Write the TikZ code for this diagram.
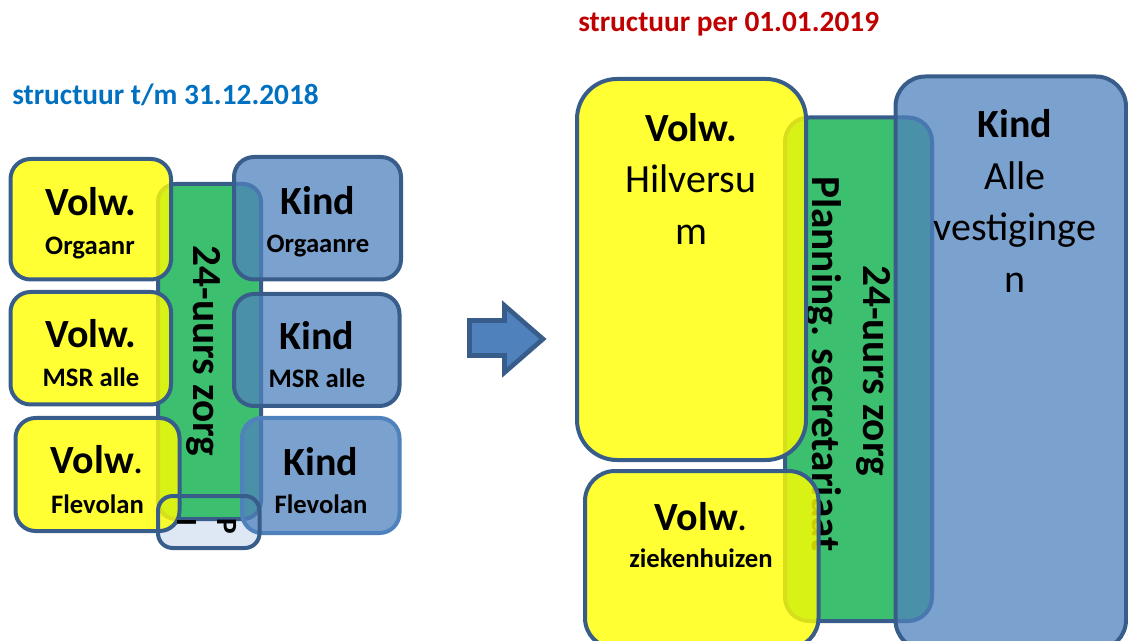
\documentclass[tikz,border=0pt]{standalone}
\usepackage{fontspec}
\setmainfont{Carlito}
\definecolor{bordc}{RGB}{56,93,138}
\definecolor{bordl}{RGB}{79,129,189}
\definecolor{yelf}{RGB}{255,255,0}
\definecolor{bluf}{RGB}{79,129,189}
\definecolor{grnf}{RGB}{60,192,112}
\definecolor{ipf}{RGB}{222,231,244}
\definecolor{tblue}{RGB}{0,112,192}
\definecolor{tred}{RGB}{192,0,0}
\begin{document}
\begin{tikzpicture}[x=0.75pt,y=-0.75pt,
  box/.style={draw=bordc, line width=3pt},
  ybox/.style={box, fill=yelf, fill opacity=0.8},
  bbox/.style={box, fill=bluf, fill opacity=0.75},
  gbox/.style={box, fill=grnf},
  big/.style={font=\bfseries\fontsize{30}{36}\selectfont, inner sep=0pt, anchor=base},
  small/.style={font=\bfseries\fontsize{20}{24}\selectfont, inner sep=0pt, anchor=base},
  reg/.style={font=\fontsize{30}{36}\selectfont, inner sep=0pt, anchor=base},
  vert/.style={font=\bfseries\fontsize{31}{36}\selectfont, inner sep=0pt, anchor=base, rotate=-90},
  iptext/.style={font=\bfseries\fontsize{22}{26}\selectfont, inner sep=0pt, anchor=base, rotate=-90},
  title/.style={font=\bfseries\fontsize{22}{26}\selectfont, inner sep=0pt, anchor=base west}
]
\useasboundingbox (0,0) rectangle (1128,641);
\clip (0,0) rectangle (1128,641);

% titles
\node[title, text=tblue] (t1) at (12,105) {structuur t/m 31.12.2018};
\node[title, text=tred] (t2) at (578,32) {structuur per 01.01.2019};

% ---------- left structure ----------
\path[fill=ipf, rounded corners=11pt] (158,496) rectangle (259.5,548);
\path[gbox, rounded corners=13.5pt] (158,184) rectangle (261,519);
\node[vert] (l24) at (193,351) {24-uurs zorg};

\path[ybox, rounded corners=15pt] (10.5,159) rectangle (171,279.5);
\path[ybox, rounded corners=15pt] (10.5,292) rectangle (171,404.5);
\path[ybox, rounded corners=15pt] (15.5,418) rectangle (179.5,531);
\path[bbox, rounded corners=15pt] (234,157) rectangle (401,279.5);
\path[bbox, rounded corners=15pt] (234,294) rectangle (399.5,406);
\path[bbox, draw=bordl, rounded corners=15pt] (242,418) rectangle (399.5,533);
\path[box, rounded corners=11pt] (158,496) rectangle (259.5,548);
\node[iptext] (lI) at (177,522) {I};
\node[iptext] (lP) at (217,526) {P};

\node[big] (lv1) at (91,216) {Volw.};
\node[small] (lv1s) at (90,255) {Orgaanr};
\node[big] (lv2) at (91,348) {Volw.};
\node[small] (lv2s) at (91,387) {MSR alle};
\node[big] (lv3) at (97.5,473) {Volw\mdseries.};
\node[small] (lv3s) at (97.5,513) {Flevolan};
\node[big] (lk1) at (318,215) {Kind};
\node[small] (lk1s) at (318,253) {Orgaanre};
\node[big] (lk2) at (317,350) {Kind};
\node[small] (lk2s) at (317,388) {MSR alle};
\node[big] (lk3) at (321,475) {Kind};
\node[small] (lk3s) at (321,513) {Flevolan};

% ---------- arrow ----------
\draw[line width=3.5pt, draw=bordc, fill=bluf, line join=miter]
  (469.5,320.5) -- (504.5,320.5) -- (504.5,305.5) -- (543,339)
  -- (504.5,372.5) -- (504.5,355.5) -- (469.5,355.5) -- cycle;

% ---------- right structure ----------
\path[gbox, rounded corners=18pt] (785,117.5) rectangle (932,621);
\node[vert] (rpl) at (812,364) {Planning. secretariaat};
\node[vert] (r24) at (863,370.5) {24-uurs zorg};

\path[ybox, rounded corners=30pt] (577,79) rectangle (806,460);
\path[ybox, rounded corners=22.5pt] (585,471) rectangle (818.5,648);
\path[bbox, rounded corners=22.5pt] (895.5,76.5) rectangle (1126,650);

\node[big] (rv1) at (691,141.5) {Volw.};
\node[reg] (rv1a) at (691,193) {Hilversu};
\node[reg] (rv1b) at (691,245) {m};
\node[big] (rk) at (1015,137.5) {Kind};
\node[reg] (rka) at (1015,189.5) {Alle};
\node[reg] (rkb) at (1015,241) {vestiginge};
\node[reg] (rkc) at (1015,293) {n};
\node[big] (rv2) at (701.5,530) {Volw\mdseries.};
\node[small] (rv2s) at (701,567) {ziekenhuizen};
\end{tikzpicture}
\end{document}
